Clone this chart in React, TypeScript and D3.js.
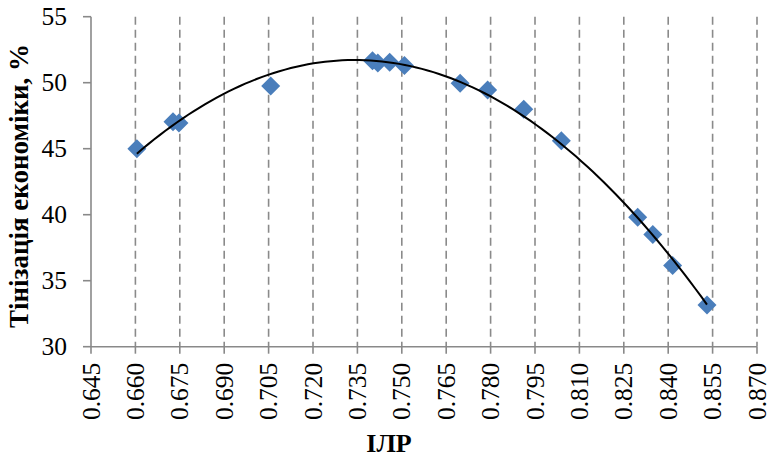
import React from "react";
import * as d3 from "d3";

// ІЛР (index of legal regulation) vs. shadow economy share, %
const ilr = [
  0.6605, 0.6727, 0.6747, 0.7057, 0.7401, 0.7419, 0.7459, 0.7509,
  0.7697, 0.779, 0.7912, 0.8039, 0.8297, 0.8348, 0.8415, 0.8531,
];
const shadow = [
  45.0, 47.05, 46.95, 49.75, 51.67, 51.5, 51.55, 51.3,
  49.95, 49.45, 47.98, 45.6, 39.8, 38.5, 36.15, 33.15,
];
const xTicks = [0.645, 0.66, 0.675, 0.69, 0.705, 0.72, 0.735, 0.75, 0.765, 0.78, 0.795, 0.81, 0.825, 0.84, 0.855, 0.87];
const yTicks = [30, 35, 40, 45, 50, 55];

// second-order polynomial trend by least squares
function quadFit(xs: number[], ys: number[]) {
  const n = xs.length;
  const mx = d3.mean(xs)!;
  const u = xs.map((x) => x - mx);
  let s1 = 0, s2 = 0, s3 = 0, s4 = 0, t0 = 0, t1 = 0, t2 = 0;
  u.forEach((v, i) => {
    s1 += v; s2 += v * v; s3 += v * v * v; s4 += v * v * v * v;
    t0 += ys[i]; t1 += v * ys[i]; t2 += v * v * ys[i];
  });
  const M = [
    [n, s1, s2, t0],
    [s1, s2, s3, t1],
    [s2, s3, s4, t2],
  ];
  for (let c = 0; c < 3; c++) {
    for (let r = c + 1; r < 3; r++) {
      const f = M[r][c] / M[c][c];
      for (let k = c; k < 4; k++) M[r][k] -= f * M[c][k];
    }
  }
  const b = [0, 0, 0];
  for (let r = 2; r >= 0; r--) {
    let s = M[r][3];
    for (let k = r + 1; k < 3; k++) s -= M[r][k] * b[k];
    b[r] = s / M[r][r];
  }
  return (x: number) => b[0] + b[1] * (x - mx) + b[2] * (x - mx) * (x - mx);
}

const serif = '"Liberation Serif", "Times New Roman", serif';

export default function App() {
  const W = 770, H = 458;
  const left = 91, right = 757, top = 16.7, bottom = 346.7;
  const x = d3.scaleLinear().domain([0.645, 0.87]).range([left, right]);
  const y = d3.scaleLinear().domain([30, 55]).range([bottom, top]);
  const axisColor = "#898989";

  const trend = quadFit(ilr, shadow);
  const [x0, x1] = d3.extent(ilr) as [number, number];
  const curvePts = d3.range(0, 101).map((i) => {
    const xv = x0 + ((x1 - x0) * i) / 100;
    return [x(xv), y(trend(xv))] as [number, number];
  });
  const linePath = d3.line()(curvePts) || "";

  const r = 9.5;
  const diamond = (cx: number, cy: number) =>
    `M${cx},${cy - r}L${cx + r},${cy}L${cx},${cy + r}L${cx - r},${cy}Z`;

  const textStyle = { fontFamily: serif };

  return (
    <svg
      width={W}
      height={H}
      style={{ position: "absolute", left: 0, top: 0, background: "#fff" }}
    >
      <rect width={W} height={H} fill="#fff" />
      {/* vertical dashed gridlines */}
      {xTicks.slice(1).map((t) => (
        <line
          key={"g" + t}
          x1={x(t)}
          x2={x(t)}
          y1={top}
          y2={bottom}
          stroke="#8a8a8a"
          strokeWidth={1.6}
          strokeDasharray="8,5"
        />
      ))}
      {/* axes */}
      <line x1={left} x2={left} y1={top} y2={bottom} stroke={axisColor} strokeWidth={1.6} />
      <line x1={left} x2={right} y1={bottom} y2={bottom} stroke={axisColor} strokeWidth={1.6} />
      {yTicks.map((t) => (
        <g key={"y" + t}>
          <line x1={left - 8} x2={left} y1={y(t)} y2={y(t)} stroke={axisColor} strokeWidth={1.6} />
          <text x={67} y={y(t)} textAnchor="end" dominantBaseline="central" fontSize={25.5} fill="#000" style={textStyle}>
            {t}
          </text>
        </g>
      ))}
      {xTicks.map((t) => (
        <g key={"x" + t}>
          <line x1={x(t)} x2={x(t)} y1={bottom} y2={bottom + 7} stroke={axisColor} strokeWidth={1.6} />
          <text
            transform={`translate(${x(t)},${bottom + 16}) rotate(-90)`}
            textAnchor="end"
            dominantBaseline="central"
            fontSize={25.5}
            fill="#000"
            style={textStyle}
          >
            {t.toFixed(3)}
          </text>
        </g>
      ))}
      {/* data points */}
      {ilr.map((v, i) => (
        <path key={"p" + i} d={diamond(x(v), y(shadow[i]))} fill="#4A7EBB" />
      ))}
      {/* polynomial trend */}
      <path d={linePath} fill="none" stroke="#000" strokeWidth={2} />
      {/* axis titles */}
      <text x={389} y={452} textAnchor="middle" fontSize={26} fontWeight="bold" fill="#000" style={textStyle}>
        ІЛР
      </text>
      <text
        transform={`translate(28,186) rotate(-90)`}
        textAnchor="middle"
        fontSize={27}
        fontWeight="bold"
        fill="#000"
        style={textStyle}
      >
        Тінізація економіки, %
      </text>
    </svg>
  );
}
